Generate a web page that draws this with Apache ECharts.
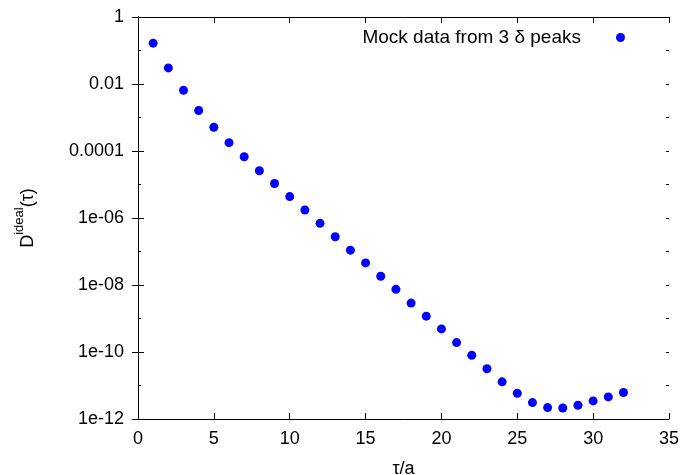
<!DOCTYPE html>
<html>
<head>
<meta charset="utf-8">
<script src="https://cdn.jsdelivr.net/npm/echarts@6/dist/echarts.min.js"></script>
<style>html,body{margin:0;padding:0;background:#fff}#c{width:685px;height:475px}</style>
</head>
<body>
<div id="c"></div>
<script>
const seriesName = 'Mock data from 3 \u03b4 peaks';
const tau = [1,2,3,4,5,6,7,8,9,10,11,12,13,14,15,16,17,18,19,20,21,22,23,24,25,26,27,28,29,30,31,32];
const log10D = [-0.78,-1.52,-2.19,-2.79,-3.29,-3.75,-4.17,-4.59,-4.97,-5.36,-5.76,-6.16,-6.56,-6.96,-7.34,-7.74,-8.13,-8.54,-8.93,-9.31,-9.72,-10.10,-10.50,-10.89,-11.23,-11.51,-11.66,-11.67,-11.59,-11.46,-11.34,-11.21];
const xTicks = [0,5,10,15,20,25,30,35];
const yTickLabels = ['1e-12','1e-10','1e-08','1e-06','0.0001','0.01','1'];

const data = tau.map((t,i)=>[t, Math.pow(10, log10D[i])]);
const font = 'Liberation Sans, Arial, Helvetica, sans-serif';
const fs = 18;

function yFmt(v){
  const e = Math.round(Math.log10(v));
  const idx = (e + 12) / 2;
  return (idx >= 0 && idx < yTickLabels.length && Number.isInteger(idx)) ? yTickLabels[idx] : '';
}
function xFmt(v){ return xTicks.indexOf(v) >= 0 ? String(v) : ''; }

const chart = echarts.init(document.getElementById('c'), null, {renderer:'canvas'});
const axisLine = {show:true, lineStyle:{color:'#000', width:1}};
const majorTick = {show:true, inside:true, length:6, lineStyle:{color:'#000'}};
const minorTickAsTick = {show:true, inside:true, length:3, lineStyle:{color:'#000'}};
function yBase(extra){
  return Object.assign({type:'log', logBase:10, min:1e-12, max:1, splitLine:{show:false}, minorTick:{show:false}}, extra);
}
chart.setOption({
  animation:false,
  backgroundColor:'#fff',
  textStyle:{fontFamily:font},
  grid:{left:138, right:16, top:17, bottom:56, containLabel:false, outerBoundsMode:'none'},
  legend:{
    show:true, right:60, top:28, padding:0, align:'right',
    itemWidth:9, itemHeight:9, icon:'circle',
    textStyle:{fontFamily:font, fontSize:19, color:'#000', padding:[0,30,0,0]},
    data:[seriesName]
  },
  xAxis:[{
    type:'value', min:0, max:35, interval:5, position:'bottom',
    axisLine:axisLine, axisTick:majorTick,
    axisLabel:{show:true, color:'#000', fontSize:fs, fontFamily:font, margin:11, formatter:xFmt},
    splitLine:{show:false},
    name:'\u03c4/a', nameLocation:'middle', nameGap:41,
    nameTextStyle:{fontSize:fs, color:'#000', fontFamily:font}
  },{
    type:'value', min:0, max:35, interval:5, position:'top',
    axisLine:axisLine, axisTick:majorTick,
    axisLabel:{show:false}, splitLine:{show:false}
  }],
  yAxis:[
    yBase({
      interval:2, position:'left',
      axisLine:axisLine, axisTick:majorTick,
      axisLabel:{show:true, color:'#000', fontSize:fs, fontFamily:font, margin:14, formatter:yFmt},
      name:'{D|D}{sup|ideal}{D|(\u03c4)}', nameLocation:'middle', nameGap:101,
      nameTextStyle:{
        fontFamily:font, color:'#000',
        rich:{
          D:{fontSize:18, fontFamily:font, color:'#000', lineHeight:24, verticalAlign:'bottom'},
          sup:{fontSize:13, fontFamily:font, color:'#000', lineHeight:24, verticalAlign:'top'}
        }
      }
    }),
    yBase({interval:2, position:'right', axisLine:axisLine, axisTick:majorTick, axisLabel:{show:false}}),
    yBase({interval:1, position:'left', offset:0, axisLine:{show:false}, axisTick:minorTickAsTick, axisLabel:{show:false}}),
    yBase({interval:1, position:'right', offset:0, axisLine:{show:false}, axisTick:minorTickAsTick, axisLabel:{show:false}})
  ],
  series:[{
    name:seriesName, type:'scatter', xAxisIndex:0, yAxisIndex:0,
    symbol:'circle', symbolSize:9,
    itemStyle:{color:'#0000ff', opacity:1},
    data:data
  }]
});
</script>
</body>
</html>
